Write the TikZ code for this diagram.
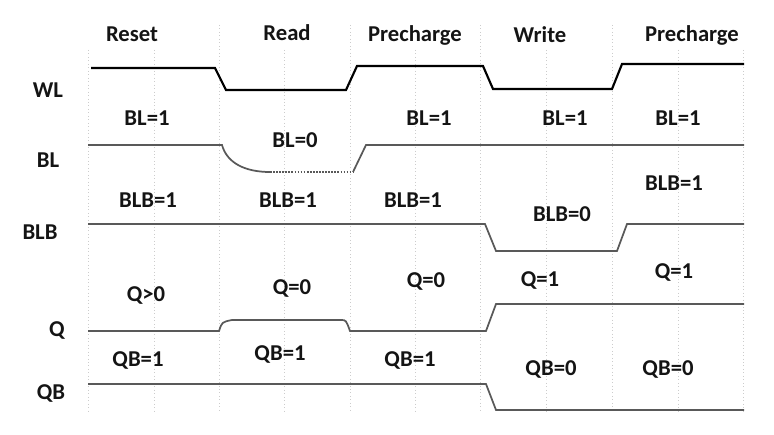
\documentclass[tikz,border=0pt]{standalone}
\usepackage{fontspec}
\setmainfont{Carlito}
\begin{document}
\begin{tikzpicture}[x=0.75pt,y=-0.75pt,
  lbl/.style={font=\fontsize{17}{19}\selectfont\bfseries,text=black!92,inner sep=0pt},
  grid/.style={draw=black!20,dotted,line width=0.6pt},
  wl/.style={draw=black,line width=1.6pt},
  sig/.style={draw=black!65,line width=1.3pt}]
\useasboundingbox (0,0) rectangle (774,435);
% grid
\foreach \x in {88,154,284,415,546,678,743} \draw[grid] (\x,50) -- (\x,413);
\foreach \x in {219,350,480,612} \draw[grid] (\x,25) -- (\x,413);
% phase labels
\node[lbl] (reset) at (132,34) {Reset};
\node[lbl] (read) at (287,33) {Read};
\node[lbl] (pre1) at (415,35) {Precharge};
\node[lbl] (write) at (540,35) {Write};
\node[lbl] (pre2) at (692,35) {Precharge};
% signal names
\node[lbl] (nwl) at (48,90) {WL};
\node[lbl] (nbl) at (48,160) {BL};
\node[lbl] (nblb) at (40,232) {BLB};
\node[lbl] (nq) at (57,330) {Q};
\node[lbl] (nqb) at (51,393) {QB};
% WL
\draw[wl] (91,68) -- (215,68) -- (226,90) -- (346,90) -- (357,66) -- (483,66) -- (493,89) -- (612,89) -- (622,64) -- (744,64);
% BL
\draw[sig] (88,145) -- (222,145) .. controls (227,163) and (245,172) .. (270,172);
\draw[sig,densely dotted] (270,172) -- (353,172);
\draw[sig] (353,172) -- (366,145) -- (744,145);
% BLB
\draw[sig] (88,224) -- (485,224) -- (496,251) -- (617,251) -- (627,224) -- (744,224);
% Q
\draw[sig] (88,331) -- (219,331) .. controls (222,322) .. (232,320) -- (341,320) .. controls (346,320) .. (350,331) -- (486,331) -- (496,304) -- (744,304);
% QB
\draw[sig] (88,384) -- (486,384) -- (496,410) -- (744,410);
% value labels
\node[lbl] (bl1a) at (147,118) {BL=1};
\node[lbl] (bl0) at (295,140) {BL=0};
\node[lbl] (bl1b) at (429,118) {BL=1};
\node[lbl] (bl1c) at (565,118) {BL=1};
\node[lbl] (bl1d) at (678,118) {BL=1};
\node[lbl] (blb1a) at (148,200) {BLB=1};
\node[lbl] (blb1b) at (288,200) {BLB=1};
\node[lbl] (blb1c) at (413,200) {BLB=1};
\node[lbl] (blb0) at (562,214) {BLB=0};
\node[lbl] (blb1d) at (674,183) {BLB=1};
\node[lbl] (qa) at (146,295) {Q>0};
\node[lbl] (qb) at (292,288) {Q=0};
\node[lbl] (qc) at (426,281) {Q=0};
\node[lbl] (qd) at (540,280) {Q=1};
\node[lbl] (qe) at (674,272) {Q=1};
\node[lbl] (qba) at (138,360) {QB=1};
\node[lbl] (qbb) at (280,354) {QB=1};
\node[lbl] (qbc) at (410,360) {QB=1};
\node[lbl] (qbd) at (551,369) {QB=0};
\node[lbl] (qbe) at (668,369) {QB=0};
\end{tikzpicture}
\end{document}
